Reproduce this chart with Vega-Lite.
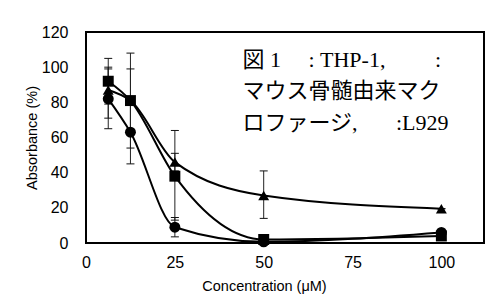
{
  "$schema": "https://vega.github.io/schema/vega-lite/v6.json",
  "width": 398,
  "height": 211,
  "autosize": "none",
  "padding": {"left": 86, "top": 32, "right": 10, "bottom": 58},
  "background": "white",
  "config": {
    "view": {"stroke": "black", "strokeWidth": 2},
    "axis": {
      "grid": false,
      "ticks": false,
      "domain": false,
      "labelFont": "Liberation Sans",
      "titleFont": "Liberation Sans",
      "labelFontSize": 16,
      "titleFontSize": 14.5,
      "titleFontWeight": "normal",
      "labelColor": "#000",
      "titleColor": "#000"
    }
  },
  "datasets": {
    "pts": [
      {"conc": 6.25, "abs": 82, "lo": 65, "hi": 99, "series": "THP-1"},
      {"conc": 12.5, "abs": 63, "lo": 45, "hi": 81, "series": "THP-1"},
      {"conc": 25, "abs": 9, "lo": 3.5, "hi": 14.5, "series": "THP-1"},
      {"conc": 50, "abs": 0.7, "lo": 0.7, "hi": 0.7, "series": "THP-1"},
      {"conc": 100, "abs": 6, "lo": 6, "hi": 6, "series": "THP-1"},
      {"conc": 6.25, "abs": 92, "lo": 79, "hi": 105, "series": "BMM"},
      {"conc": 12.5, "abs": 81, "lo": 54, "hi": 108, "series": "BMM"},
      {"conc": 25, "abs": 38, "lo": 13, "hi": 64, "series": "BMM"},
      {"conc": 50, "abs": 2, "lo": 2, "hi": 2, "series": "BMM"},
      {"conc": 100, "abs": 4, "lo": 4, "hi": 4, "series": "BMM"},
      {"conc": 6.25, "abs": 87, "lo": 71, "hi": 100, "series": "L929"},
      {"conc": 12.5, "abs": 81, "lo": 63, "hi": 99, "series": "L929"},
      {"conc": 25, "abs": 46, "lo": 41, "hi": 51, "series": "L929"},
      {"conc": 50, "abs": 27, "lo": 14, "hi": 41, "series": "L929"},
      {"conc": 100, "abs": 19.5, "lo": 19.5, "hi": 19.5, "series": "L929"}
    ],
    "notes": [
      {"conc": 44, "abs": 104, "label": "図 1　 : THP-1,　　 :"},
      {"conc": 44, "abs": 86.5, "label": "マウス骨髄由来マク"},
      {"conc": 44, "abs": 68.5, "label": "ロファージ,　\u00a0\u00a0\u00a0:L929"}
    ]
  },
  "encoding": {
    "x": {"field": "conc", "type": "quantitative", "scale": {"domain": [-0.01, 112], "nice": false, "zero": false},
          "axis": {"values": [0, 25, 50, 75, 100], "title": "Concentration (μM)", "labelPadding": 11, "titlePadding": 9, "titleX": 178, "labelOverlap": false, "labelFlush": false, "labelBound": false}},
    "y": {"field": "abs", "type": "quantitative", "scale": {"domain": [0, 120], "nice": false},
          "axis": {"values": [0, 20, 40, 60, 80, 100, 120], "title": "Absorbance (%)", "labelPadding": 18, "titlePadding": 2, "labelOverlap": false, "labelFlush": false, "labelBound": false}}
  },
  "layer": [
    {
      "data": {"name": "pts"},
      "mark": {"type": "rule", "color": "#222", "strokeWidth": 1},
      "encoding": {
        "y": {"field": "lo", "type": "quantitative"},
        "y2": {"field": "hi"}
      }
    },
    {
      "data": {"name": "pts"},
      "mark": {"type": "tick", "orient": "horizontal", "size": 8, "thickness": 1, "color": "#111", "opacity": 1},
      "encoding": {
        "y": {"field": "lo", "type": "quantitative"}
      }
    },
    {
      "data": {"name": "pts"},
      "mark": {"type": "tick", "orient": "horizontal", "size": 8, "thickness": 1, "color": "#111", "opacity": 1},
      "encoding": {
        "y": {"field": "hi", "type": "quantitative"}
      }
    },
    {
      "data": {"name": "pts"},
      "mark": {"type": "line", "interpolate": "monotone", "color": "black", "strokeWidth": 2},
      "encoding": {
        "detail": {"field": "series"}
      }
    },
    {
      "data": {"name": "pts"},
      "mark": {"type": "point", "filled": true, "color": "black", "opacity": 1, "size": 120},
      "encoding": {
        "shape": {"field": "series", "type": "nominal",
                  "scale": {"domain": ["THP-1", "BMM", "L929"], "range": ["circle", "square", "triangle-up"]},
                  "legend": null}
      }
    },
    {
      "data": {"name": "notes"},
      "mark": {"type": "text", "align": "left", "baseline": "middle", "fontSize": 22, "font": "Liberation Serif, Noto Sans CJK JP", "color": "black"},
      "encoding": {
        "text": {"field": "label"}
      }
    }
  ]
}
